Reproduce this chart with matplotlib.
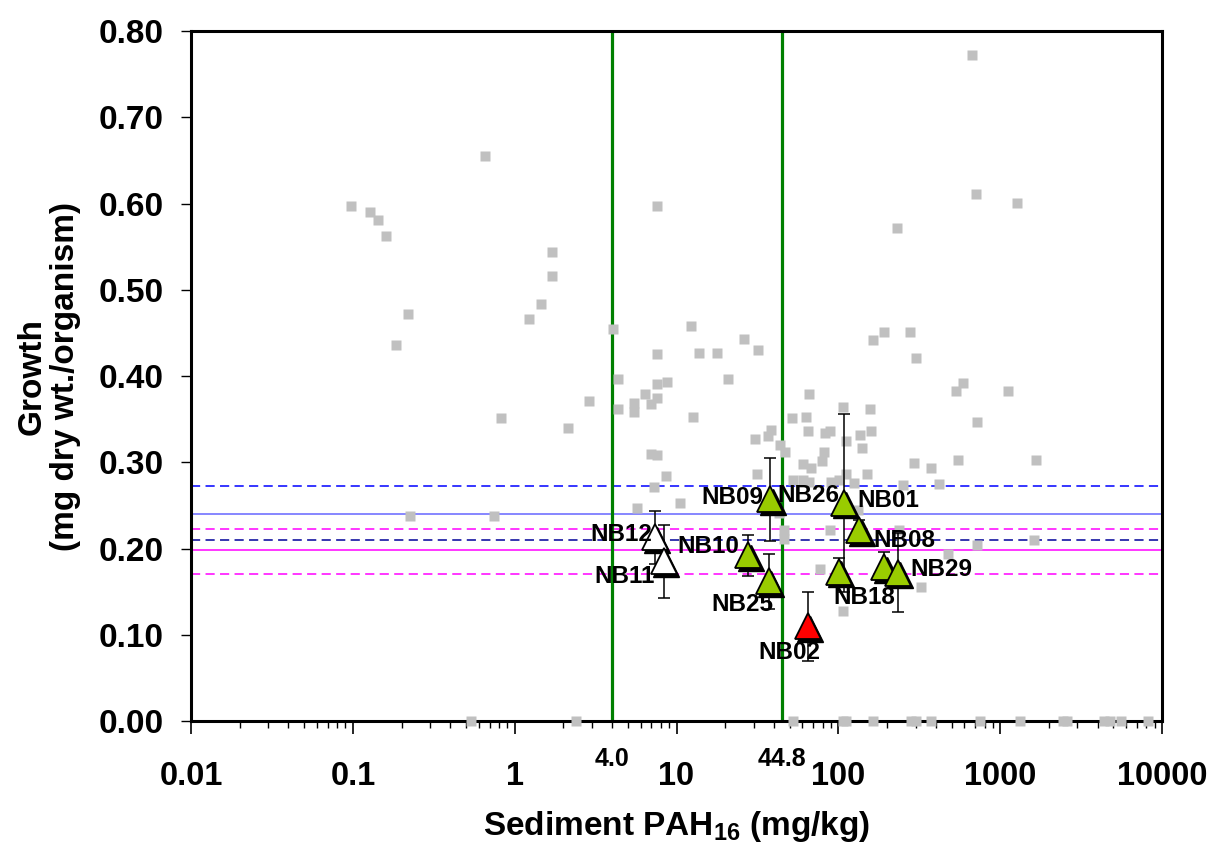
import matplotlib
matplotlib.use("Agg")
import matplotlib.pyplot as plt
import matplotlib.transforms as mtransforms
from matplotlib.ticker import FixedLocator, FixedFormatter, LogLocator, NullFormatter
import numpy as np

plt.rcParams['font.family'] = ['Liberation Sans', 'DejaVu Sans']
plt.rcParams['font.weight'] = 'bold'

# reference data (grey squares): sediment PAH16 (mg/kg) vs growth
ref_pah = [0.097, 0.127, 0.143, 0.160, 0.184, 0.219, 0.225, 0.653, 0.75, 0.82,
           1.23, 1.45, 1.70, 1.70, 2.13, 2.87, 4.03, 4.32, 4.32, 5.43,
           5.43, 5.66, 6.37, 6.98, 7.6, 7.6, 7.6, 7.6, 8.72, 6.98,
           7.6, 8.55, 7.28, 10.5, 12.3, 12.6, 13.8, 17.7, 20.8, 26.1,
           31.9, 30.4, 31.2, 36.5, 38.2, 43.6, 47.1, 42.9, 46.3, 46.3,
           51.5, 52.7, 60.3, 60.5, 63.2, 64.7, 65.8, 66.2, 67.5, 77.4,
           79.3, 81.1, 83.2, 88.9, 89.9, 89.0, 101, 107, 107, 112,
           112, 124, 133, 136, 139, 150, 157, 160, 164, 192,
           230, 236, 252, 279, 294, 303, 325, 373, 416, 477,
           535, 548, 585, 671, 705, 721, 721, 1110, 1268, 1628, 1667]
ref_growth = [0.597, 0.590, 0.581, 0.562, 0.436, 0.472, 0.238, 0.655, 0.238, 0.351,
              0.466, 0.483, 0.516, 0.544, 0.340, 0.371, 0.454, 0.397, 0.362, 0.369,
              0.358, 0.247, 0.379, 0.368, 0.375, 0.391, 0.425, 0.597, 0.393, 0.310,
              0.308, 0.284, 0.271, 0.253, 0.458, 0.353, 0.427, 0.427, 0.397, 0.443,
              0.430, 0.327, 0.286, 0.330, 0.337, 0.320, 0.312, 0.241, 0.221, 0.211,
              0.351, 0.280, 0.298, 0.279, 0.353, 0.336, 0.277, 0.379, 0.293, 0.176,
              0.301, 0.312, 0.334, 0.336, 0.277, 0.221, 0.280, 0.364, 0.128, 0.325,
              0.286, 0.276, 0.245, 0.332, 0.316, 0.286, 0.362, 0.336, 0.442, 0.451,
              0.572, 0.221, 0.274, 0.451, 0.299, 0.421, 0.155, 0.293, 0.275, 0.194,
              0.383, 0.303, 0.392, 0.772, 0.611, 0.347, 0.204, 0.383, 0.601, 0.210, 0.303]
# reference samples with zero growth
zero_pah = [0.535, 2.39, 52.3, 107, 112, 164, 280, 300, 374, 753,
            1328, 2448, 2600, 4385, 4800, 5611, 8200]
zero_growth = [0.0] * len(zero_pah)

# study stations
stations = ["NB09", "NB26", "NB01", "NB08", "NB29", "NB18", "NB10", "NB25",
            "NB02", "NB12", "NB11"]
st_pah = [37.8, 108, 135, 192, 232, 100.5, 27.8, 37.2, 64.7, 7.31, 8.36]
st_growth = [0.257, 0.253, 0.221, 0.178, 0.172, 0.173, 0.192, 0.162, 0.110, 0.213, 0.185]
st_sd = [0.048, 0.103, 0.012, 0.018, 0.046, 0.016, 0.024, 0.032, 0.040, 0.031, 0.042]
st_class = ["mid", "mid", "mid", "mid", "mid", "mid", "mid", "mid", "toxic", "ref", "ref"]

# guideline values and reference-envelope lines
pah_guides = [4.0, 44.8]
hlines = [0.272, 0.240, 0.223, 0.210, 0.198, 0.170]

# styles / label placement
class_color = {"mid": "#99CC00", "toxic": "#FF0000", "ref": "#FFFFFF"}
hline_style = [("#0000FF", "--"), ("#6666FF", "-"), ("#FF00FF", "--"),
               ("#000099", "--"), ("#FF00FF", "-"), ("#FF00FF", "--")]
lab_off = {"NB09": (-5, 1, "right"), "NB26": (-3, 5, "right"), "NB01": (-1.5, 21.5, "left"),
           "NB08": (-8, 19.5, "left"), "NB29": (9.5, 2, "left"), "NB18": (-3.5, -18.5, "left"),
           "NB10": (-6.5, 6.5, "right"), "NB25": (3, -16.5, "right"), "NB02": (-13, -19, "center"),
           "NB12": (-1.5, 2, "right"), "NB11": (-6.5, -11, "right")}

fig = plt.figure(figsize=(12.13, 8.43), dpi=100)
ax = fig.add_axes([0.1575, 0.1447, 0.8005, 0.8185])
ax.set_xscale("log")
ax.set_xlim(0.01, 10000)
ax.set_ylim(0, 0.8)

for v, (c, ls) in zip(hlines, hline_style):
    line = ax.axhline(v, color=c, lw=1.1, ls=ls, zorder=2)
    if ls == "--":
        line.set_dashes((6, 3.5))
for g in pah_guides:
    ax.axvline(g, color="#008000", lw=2.3, zorder=2)
    ax.annotate(f"{g:.1f}", xy=(g, 0), xycoords=("data", "axes fraction"),
                xytext=(0, -27), textcoords="offset points", ha="center", va="center",
                fontsize=18, fontweight="bold", annotation_clip=False)

ax.plot(ref_pah, ref_growth, ls="none", marker="s", ms=6.5, mfc="#C0C0C0", mec="none",
        zorder=3, clip_on=False)
ax.plot(zero_pah, zero_growth, ls="none", marker="s", ms=6.5, mfc="#C0C0C0", mec="none",
        zorder=3, clip_on=False)

ax.errorbar(st_pah, st_growth, yerr=st_sd, fmt="none", ecolor="black", elinewidth=1.1,
            capsize=4.5, capthick=1.1, zorder=4)

shadow = mtransforms.offset_copy(ax.transData, fig=fig, x=1.8, y=-1.8, units="points")
for x, y, cl in zip(st_pah, st_growth, st_class):
    ax.plot([x], [y], marker="^", ms=19, mfc="black", mec="black", ls="none",
            transform=shadow, zorder=5)
    ax.plot([x], [y], marker="^", ms=19, mfc=class_color[cl], mec="black", mew=1.3,
            ls="none", zorder=6)

for name, x, y in zip(stations, st_pah, st_growth):
    dx, dy, ha = lab_off[name]
    ax.annotate(name, xy=(x, y), xytext=(dx, dy), textcoords="offset points",
                ha=ha, va="center", fontsize=17.5, fontweight="bold", zorder=7)

# axes styling
for s in ax.spines.values():
    s.set_linewidth(2.2)
    s.set_color("black")
    s.set_zorder(2.5)

ax.yaxis.set_major_locator(FixedLocator(np.arange(0, 0.81, 0.1)))
ax.yaxis.set_major_formatter(matplotlib.ticker.FormatStrFormatter("%.2f"))
ax.xaxis.set_major_locator(FixedLocator([0.01, 0.1, 1, 10, 100, 1000, 10000]))
ax.xaxis.set_major_formatter(FixedFormatter(["0.01", "0.1", "1", "10", "100", "1000", "10000"]))
ax.xaxis.set_minor_locator(LogLocator(base=10, subs=np.arange(2, 10)))
ax.xaxis.set_minor_formatter(NullFormatter())
ax.tick_params(axis="y", direction="out", length=7, width=1, pad=13, labelsize=24)
ax.tick_params(axis="x", which="major", direction="out", length=9, width=1.2, pad=20, labelsize=23.5)
ax.tick_params(axis="x", which="minor", direction="out", length=5, width=1)
for lab in ax.get_xticklabels() + ax.get_yticklabels():
    lab.set_fontweight("bold")

ax.set_xlabel("Sediment PAH$_{\\mathregular{16}}$ (mg/kg)", fontsize=24, fontweight="bold", labelpad=12)
ax.set_ylabel("Growth\n(mg dry wt./organism)", fontsize=24, fontweight="bold", labelpad=12,
              linespacing=1.1)

fig.savefig("out.png", dpi=100)
